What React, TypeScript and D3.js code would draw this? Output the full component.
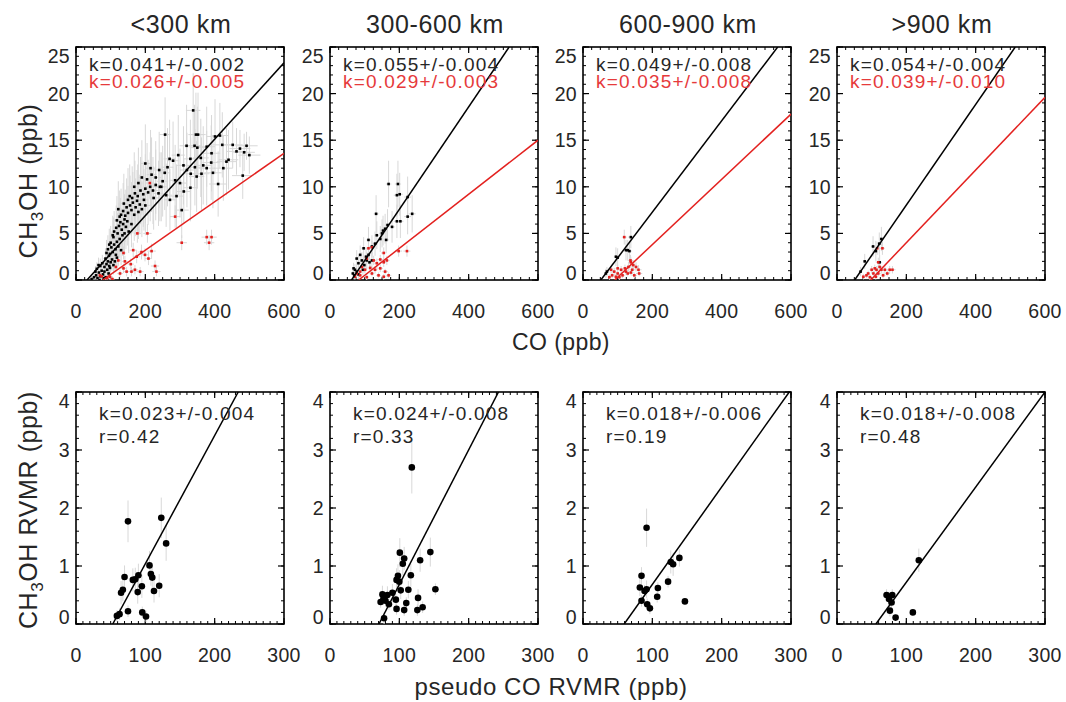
import React from "react";
import * as d3 from "d3";

type Pt = [number, number, number, number]; // x, y, yErr, xErr

const FONT = "'Liberation Sans', Arial, Helvetica, sans-serif";
const TXT = "#262626";
const RED = "#e3211f";
const RED_TXT = "#e63a3b";
const ERR = "#d8d8d8";

// ---------------- labels ----------------
const regionTitles = ["<300 km", "300-600 km", "600-900 km", ">900 km"];
const topXTicks = [0, 200, 400, 600];
const topYTicks = [0, 5, 10, 15, 20, 25];
const botXTicks = [0, 100, 200, 300];
const botYTicks = [0, 1, 2, 3, 4];

const topBlackK = ["k=0.041+/-0.002", "k=0.055+/-0.004", "k=0.049+/-0.008", "k=0.054+/-0.004"];
const topRedK = ["k=0.026+/-0.005", "k=0.029+/-0.003", "k=0.035+/-0.008", "k=0.039+/-0.010"];
const botK = ["k=0.023+/-0.004", "k=0.024+/-0.008", "k=0.018+/-0.006", "k=0.018+/-0.008"];
const botR = ["r=0.42", "r=0.33", "r=0.19", "r=0.48"];

// fit lines: [slope, intercept]
const topBlackLine = [[0.041, -1.3], [0.055, -3.42], [0.049, -2.52], [0.054, -2.76]];
const topRedLine = [[0.026, -2.0], [0.029, -2.4], [0.035, -3.2], [0.039, -3.8]];
const botLine = [[0.0221, -1.171], [0.0232, -1.638], [0.0168, -0.998], [0.0164, -0.92]];

// ---------------- data: top row (CO vs CH3OH) ----------------
const p1Black: Pt[] = [
  [45,0.1,0.4,4],[52,0.3,0.5,4],[58,0.5,0.5,4],[62,0.2,0.4,4],[66,0.8,0.6,5],[70,0.4,0.5,5],[74,1.0,0.7,5],[78,0.6,0.5,5],[82,0.9,0.7,5],[86,0.3,0.5,5],[90,1.1,0.8,6],[94,0.7,0.6,6],[98,1.3,0.9,6],[56,0.9,0.6,4],[68,0.0,0.4,5],[80,0.2,0.5,5],
  [70,1.5,0.8,5],[76,1.8,0.9,5],[82,1.4,0.8,6],[88,1.7,1.0,6],[92,2.0,1.1,6],[96,1.5,0.9,6],[100,1.9,1.1,7],[104,2.2,1.2,7],[108,1.6,1.0,7],[112,2.0,1.2,7],[85,2.3,1.1,6],[95,2.6,1.3,6],[118,2.4,1.3,8],[60,1.2,0.7,5],[65,1.6,0.8,5],
  [88,2.9,1.4,6],[92,3.3,1.5,6],[98,2.8,1.4,7],[102,3.5,1.6,7],[106,3.0,1.5,7],[110,3.8,1.8,7],[114,3.3,1.6,8],[118,4.1,1.9,8],[122,3.6,1.7,8],[126,4.4,2.0,8],[100,4.0,1.8,7],[108,4.6,2.1,7],[130,3.2,1.6,9],[134,4.8,2.2,9],[96,3.8,1.7,6],[115,2.7,1.4,8],[140,5.0,2.3,9],
  [110,5.2,2.2,7],[116,5.6,2.4,8],[120,5.0,2.2,8],[124,5.8,2.5,8],[128,6.2,2.6,8],[132,5.4,2.3,9],[136,6.0,2.5,9],[140,6.5,2.7,9],[144,5.7,2.4,10],[148,6.3,2.6,10],[118,6.4,2.6,8],[126,6.8,2.8,8],[152,5.2,2.3,10],[106,4.8,2.1,7],[160,6.0,2.5,10],
  [130,7.0,2.8,9],[136,7.4,3.0,9],[142,6.9,2.8,9],[146,7.8,3.1,10],[150,7.2,2.9,10],[156,8.0,3.2,10],[160,7.5,3.0,11],[164,8.3,3.3,11],[168,7.0,2.8,11],[172,7.8,3.1,11],[176,8.5,3.3,12],[180,7.3,2.9,12],[138,8.2,3.2,9],[150,8.6,3.4,10],[184,8.1,3.2,12],[190,7.6,3.0,12],[122,7.6,3.0,8],[200,8.0,3.2,13],
  [155,9.0,3.4,10],[162,8.8,3.4,11],[170,9.3,3.5,11],[178,9.0,3.4,12],[186,9.6,3.6,12],[194,9.2,3.5,13],[200,9.8,3.7,13],[208,9.4,3.5,13],[214,10.0,3.7,14],[222,9.6,3.6,14],[230,10.2,3.8,15],[168,10.0,3.7,11],[180,10.4,3.8,12],[238,9.3,3.5,15],[246,10.0,3.7,16],[260,9.1,3.4,17],[271,8.6,3.3,17],[196,8.6,3.3,13],[224,8.8,3.4,14],
  [190,11.0,4.0,12],[205,10.8,3.9,13],[218,11.3,4.0,14],[230,11.0,3.9,15],[242,10.0,3.7,16],[250,10.6,3.8,16],[256,11.5,4.0,16],[264,12.1,4.2,17],[286,10.7,3.8,18],[300,10.4,3.7,19],[311,9.5,3.5,20],[305,7.5,3.0,20],[331,11.4,3.9,21],[348,11.1,3.8,22],[362,11.4,3.9,23],[215,12.0,4.1,14],[200,12.5,4.2,13],[240,11.8,4.1,15],[290,9.0,3.4,19],
  [310,12.3,4.2,20],[343,12.1,4.1,22],[367,12.3,4.2,23],[377,12.0,4.0,24],[425,12.0,3.5,27],[434,12.7,3.6,28],[295,13.4,4.3,19],[319,14.4,4.4,20],[342,14.4,4.4,22],[350,14.2,4.4,22],[377,14.3,4.3,24],[391,13.6,4.1,25],[422,14.5,3.5,27],[452,14.5,2.5,29],[473,14.1,2.0,30],[492,14.4,1.5,32],[463,13.8,2.5,30],[485,13.7,2.0,31],[401,15.4,4.0,26],[415,15.5,3.5,26],[346,15.6,4.5,22],[352,15.6,4.5,22],[257,15.6,4.0,16],[338,18.2,4.0,21],[481,11.2,2.5,31],[270,13.0,4.2,17],[395,11.5,3.8,25],[410,10.3,3.5,26],[330,9.9,3.6,21],[280,12.8,4.2,18],[360,13.1,4.2,23],[330,13.0,4.2,21],[390,12.6,4.0,25],[440,12.9,3.2,28],[500,13.4,2.0,32],[320,11.8,4.0,20],
];
const p1Red: Pt[] = [
  [213,10.4,1.5,12],[286,6.8,1.2,15],[177,5.0,1.0,10],[206,5.0,1.0,12],[377,4.6,0.8,15],[391,4.6,0.8,15],[384,4.0,0.8,15],[305,4.0,0.8,15],[165,3.2,0.8,10],[189,3.0,0.8,10],[218,3.1,0.8,12],[199,2.7,0.7,10],[175,2.5,0.7,10],[209,2.3,0.7,10],[137,2.9,0.7,8],[122,2.1,0.6,8],[141,2.0,0.6,8],[158,1.7,0.6,9],[115,1.4,0.5,7],[137,1.25,0.5,8],[170,1.1,0.5,9],[228,1.5,0.6,12],[232,0.9,0.5,12],[146,0.9,0.5,8],[160,0.9,0.5,9],[185,0.9,0.5,10],[69,0.5,0.4,5],[74,0.4,0.4,5],[98,0.35,0.4,6],[127,0.7,0.4,8],[105,0.1,0.3,6],[90,0.2,0.3,6],
];
const p2Black: Pt[] = [
  [169,10.3,2.5,8],[196,10.3,2.5,9],[201,9.2,2.3,9],[193,9.1,2.3,9],[224,8.9,2.2,10],[133,7.1,2.0,7],[224,6.8,1.9,10],[237,7.1,2.0,10],[193,6.3,1.8,9],[203,6.3,1.8,9],[166,5.9,1.7,8],[159,5.5,1.6,8],[153,5.3,1.6,8],[179,5.7,1.7,8],[111,4.3,1.4,6],[145,4.4,1.4,7],[162,4.3,1.4,8],[130,3.9,1.3,7],[97,3.4,1.2,6],[121,3.6,1.2,7],[87,2.7,1.0,5],[104,2.5,1.0,6],[111,2.7,1.0,6],[77,2.3,0.9,5],[92,2.1,0.9,5],[106,2.1,0.9,6],[121,2.1,0.9,7],[82,1.8,0.8,5],[99,1.6,0.8,6],[114,1.9,0.8,6],[68,1.25,0.6,5],[72,1.1,0.6,5],[77,0.9,0.5,5],[66,0.7,0.5,5],[82,0.6,0.5,5],[70,0.5,0.4,5],[95,1.1,0.6,6],[135,4.8,1.5,7],[150,5.0,1.5,8],
];
const p2Red: Pt[] = [
  [111,3.4,0.7,7],[121,3.5,0.7,7],[198,3.1,0.6,10],[222,3.1,0.6,10],[155,2.9,0.6,8],[106,2.3,0.5,6],[126,2.1,0.5,7],[145,2.2,0.5,8],[164,2.1,0.5,8],[135,1.8,0.5,7],[155,1.9,0.5,8],[92,1.4,0.4,6],[116,1.3,0.4,7],[101,1.1,0.4,6],[130,1.1,0.4,7],[145,1.25,0.4,8],[77,0.7,0.3,5],[87,0.5,0.3,5],[121,0.7,0.3,7],[140,0.5,0.3,7],[155,0.35,0.3,8],[169,0.5,0.3,8],[72,0.35,0.3,5],[106,0.3,0.3,6],[87,0.9,0.3,5],[159,0.9,0.3,8],
];
const p3Black: Pt[] = [
  [138,4.6,1.2,8],[95,2.5,1.0,6],[100,2.4,1.0,6],[129,3.2,1.1,7],[134,3.1,1.1,7],[124,3.2,1.1,7],[69,0.9,0.5,5],[66,0.7,0.5,5],
];
const p3Red: Pt[] = [
  [119,4.6,0.8,7],[137,2.1,0.6,8],[138,1.9,0.6,8],[153,1.4,0.5,8],[160,1.1,0.5,9],[142,1.1,0.5,8],[131,1.4,0.5,7],[124,0.9,0.4,7],[110,1.1,0.4,6],[100,0.7,0.4,6],[90,0.9,0.4,6],[81,1.1,0.4,5],[84,0.5,0.3,5],[95,0.35,0.3,6],[105,0.3,0.3,6],[114,0.5,0.3,7],[129,0.7,0.3,7],[138,0.8,0.3,8],[148,0.5,0.3,8],[162,0.7,0.3,9],[76,0.3,0.3,5],[121,1.25,0.4,7],[145,1.6,0.5,8],[100,1.25,0.4,6],
];
const p4Black: Pt[] = [
  [128,4.4,1.3,7],[122,3.9,1.2,7],[104,3.6,1.1,6],[112,3.1,1.1,6],[80,2.0,0.8,5],[68,0.9,0.5,5],[123,1.9,0.8,7],
];
const p4Red: Pt[] = [
  [131,3.4,0.7,7],[116,3.4,0.7,7],[119,1.9,0.5,7],[114,1.1,0.4,6],[128,1.1,0.4,7],[100,1.1,0.4,6],[109,1.25,0.4,6],[138,1.1,0.4,8],[152,1.1,0.4,8],[160,1.1,0.4,9],[90,0.7,0.3,5],[105,0.7,0.3,6],[119,0.7,0.3,7],[133,0.5,0.3,7],[95,0.3,0.3,5],[76,0.35,0.3,5],[85,0.5,0.3,5],[123,1.4,0.4,7],[112,0.35,0.3,6],[145,0.7,0.3,8],
];

// ---------------- data: bottom row (pseudo CO RVMR vs CH3OH RVMR) ----------------
const b1: Pt[] = [
  [75,1.77,0.36,0],[123,1.83,0.35,0],[130,1.39,0.3,0],[106,1.01,0.25,0],[70,0.81,0.2,0],[85.5,0.77,0.2,0],[90,0.84,0.2,0],[82,0.76,0.2,0],[108,0.86,0.2,0],[110,0.8,0.2,0],[95,0.65,0.2,0],[89,0.55,0.2,0],[120,0.66,0.2,0],[112.5,0.57,0.2,0],[67.6,0.59,0.2,0],[65,0.54,0.2,0],[75,0.22,0.1,0],[95.6,0.2,0.1,0],[101,0.13,0.1,0],[59,0.14,0.1,0],[62.8,0.17,0.1,0],
];
const b2: Pt[] = [
  [118,2.7,0.45,0],[100.7,1.23,0.25,0],[144.7,1.24,0.25,0],[107,1.13,0.2,0],[105,1.04,0.2,0],[130,1.1,0.2,0],[98,0.83,0.2,0],[116.6,0.84,0.2,0],[96,0.76,0.2,0],[100,0.73,0.2,0],[102,0.58,0.15,0],[113,0.59,0.15,0],[152,0.6,0.1,5],[75.6,0.51,0.15,0],[82.8,0.5,0.15,0],[90,0.54,0.15,0],[73,0.38,0.1,0],[80,0.4,0.1,0],[85,0.34,0.1,0],[95,0.42,0.1,0],[127,0.45,0.15,0],[110,0.36,0.1,0],[96,0.26,0.1,0],[107,0.24,0.1,0],[126,0.24,0.1,0],[133.6,0.29,0.1,0],[78,0.1,0.1,0],[77,0.43,0.1,0],
];
const b3: Pt[] = [
  [91.7,1.66,0.33,0],[139,1.14,0.15,4],[126.6,1.07,0.2,0],[130,1.03,0.2,0],[122.7,0.73,0.1,0],[84.4,0.83,0.15,0],[82,0.63,0.15,0],[91.7,0.6,0.15,0],[88.8,0.57,0.1,0],[108,0.62,0.1,0],[107,0.47,0.1,0],[84.4,0.4,0.1,0],[92.6,0.34,0.1,0],[96.5,0.27,0.1,0],[147,0.39,0.05,5],
];
const b4: Pt[] = [
  [118,1.1,0.2,0],[71.5,0.5,0.1,0],[79.7,0.5,0.1,0],[75,0.43,0.1,0],[78.7,0.37,0.1,0],[76.3,0.23,0.1,0],[84.5,0.11,0.05,0],[109.4,0.2,0.05,4],
];

const topBlack = [p1Black, p2Black, p3Black, p4Black];
const topRed = [p1Red, p2Red, p3Red, p4Red];
const bottomPts = [b1, b2, b3, b4];

// ---------------- layout ----------------
const panelLeft = [76, 330, 583, 837];
const panelW = 208;
const TOP = { y0: 47, y1: 280 };
const BOT = { y0: 392, y1: 624 };

type AxisSpec = {
  xDomain: [number, number];
  yDomain: [number, number];
  xTicks: number[];
  yTicks: number[];
  xMinor: number;
  yMinor: number;
};

const topSpec: AxisSpec = { xDomain: [0, 600], yDomain: [0, 25], xTicks: topXTicks, yTicks: topYTicks, xMinor: 25, yMinor: 1 };
const botSpec: AxisSpec = { xDomain: [0, 300], yDomain: [0, 4], xTicks: botXTicks, yTicks: botYTicks, xMinor: 10, yMinor: 0.2 };

function Frame({ x0, y0, y1, spec, id }: { x0: number; y0: number; y1: number; spec: AxisSpec; id: string }) {
  const x = d3.scaleLinear().domain(spec.xDomain).range([x0, x0 + panelW]);
  const y = d3.scaleLinear().domain(spec.yDomain).range([y1, y0]);
  const xm = d3.range(spec.xDomain[0], spec.xDomain[1] + 1e-9, spec.xMinor);
  const ym = d3.range(spec.yDomain[0], spec.yDomain[1] + 1e-9, spec.yMinor);
  const maj = 6, min = 3;
  return (
    <g>
      {xm.map((v, i) => (
        <g key={"xm" + i}>
          <line x1={x(v)} x2={x(v)} y1={y1} y2={y1 - min} stroke="#000" strokeWidth={1} />
          <line x1={x(v)} x2={x(v)} y1={y0} y2={y0 + min} stroke="#000" strokeWidth={1} />
        </g>
      ))}
      {ym.map((v, i) => (
        <g key={"ym" + i}>
          <line x1={x0} x2={x0 + min} y1={y(v)} y2={y(v)} stroke="#000" strokeWidth={1} />
          <line x1={x0 + panelW} x2={x0 + panelW - min} y1={y(v)} y2={y(v)} stroke="#000" strokeWidth={1} />
        </g>
      ))}
      {spec.xTicks.map((v, i) => (
        <g key={"xt" + i}>
          <line x1={x(v)} x2={x(v)} y1={y1} y2={y1 - maj} stroke="#000" strokeWidth={1.2} />
          <line x1={x(v)} x2={x(v)} y1={y0} y2={y0 + maj} stroke="#000" strokeWidth={1.2} />
          <text x={x(v)} y={y1 + 38} textAnchor="middle" fontSize={19.5} letterSpacing={0.3} fill={TXT} fontFamily={FONT}>{v}</text>
        </g>
      ))}
      {spec.yTicks.map((v, i) => {
        const yy = y(v);
        const ly = Math.min(Math.max(yy, y0 + 9), y1 - 7);
        return (
          <g key={"yt" + i}>
            <line x1={x0} x2={x0 + maj} y1={yy} y2={yy} stroke="#000" strokeWidth={1.2} />
            <line x1={x0 + panelW} x2={x0 + panelW - maj} y1={yy} y2={yy} stroke="#000" strokeWidth={1.2} />
            <text x={x0 - 6} y={ly} dy="0.36em" textAnchor="end" fontSize={19.5} letterSpacing={0.3} fill={TXT} fontFamily={FONT}>{v}</text>
          </g>
        );
      })}
      <rect x={x0} y={y0} width={panelW} height={y1 - y0} fill="none" stroke="#000" strokeWidth={1.6} />
      <clipPath id={id}>
        <rect x={x0} y={y0} width={panelW} height={y1 - y0} />
      </clipPath>
    </g>
  );
}

function fitPath(k: number, b: number, spec: AxisSpec, x: d3.ScaleLinear<number, number>, y: d3.ScaleLinear<number, number>) {
  const [xa, xb] = spec.xDomain;
  const [ya, yb] = spec.yDomain;
  const xs = Math.max(xa, (ya - b) / k);
  const xe = Math.min(xb, (yb - b) / k);
  const line = d3.line<number>().x((d) => x(d)).y((d) => y(k * d + b));
  return line([xs, xe]) || "";
}

function ErrBars({ pts, x, y }: { pts: Pt[]; x: any; y: any }) {
  return (
    <g stroke={ERR} strokeWidth={1}>
      {pts.map((p, i) => (
        <g key={i}>
          <line x1={x(p[0])} x2={x(p[0])} y1={y(p[1] - p[2])} y2={y(p[1] + p[2])} />
          {p[3] > 0 && <line x1={x(p[0] - p[3])} x2={x(p[0] + p[3])} y1={y(p[1])} y2={y(p[1])} />}
        </g>
      ))}
    </g>
  );
}

function TopPanel({ i }: { i: number }) {
  const x0 = panelLeft[i];
  const x = d3.scaleLinear().domain(topSpec.xDomain).range([x0, x0 + panelW]);
  const y = d3.scaleLinear().domain(topSpec.yDomain).range([TOP.y1, TOP.y0]);
  const id = "clipT" + i;
  const s = 2.6;
  return (
    <g>
      <Frame x0={x0} y0={TOP.y0} y1={TOP.y1} spec={topSpec} id={id} />
      <g clipPath={`url(#${id})`}>
        <ErrBars pts={topBlack[i]} x={x} y={y} />
        <ErrBars pts={topRed[i]} x={x} y={y} />
        {topBlack[i].map((p, j) => (
          <rect key={"b" + j} x={x(p[0]) - s / 2} y={y(p[1]) - s / 2} width={s} height={s} fill="#000" />
        ))}
        {topRed[i].map((p, j) => (
          <rect key={"r" + j} x={x(p[0]) - s / 2} y={y(p[1]) - s / 2} width={s} height={s} fill={RED} />
        ))}
        <path d={fitPath(topBlackLine[i][0], topBlackLine[i][1], topSpec, x, y)} stroke="#000" strokeWidth={1.5} fill="none" />
        <path d={fitPath(topRedLine[i][0], topRedLine[i][1], topSpec, x, y)} stroke={RED} strokeWidth={1.5} fill="none" />
      </g>
      <text x={x0 + 13} y={71} fontSize={19} letterSpacing={1.2} fill={TXT} fontFamily={FONT}>{topBlackK[i]}</text>
      <text x={x0 + 13} y={88} fontSize={19} letterSpacing={1.2} fill={RED_TXT} fontFamily={FONT}>{topRedK[i]}</text>
      <text x={x0 + panelW / 2 + 1} y={33} textAnchor="middle" fontSize={25} letterSpacing={0.6} fill={TXT} fontFamily={FONT}>{regionTitles[i]}</text>
    </g>
  );
}

function BottomPanel({ i }: { i: number }) {
  const x0 = panelLeft[i];
  const x = d3.scaleLinear().domain(botSpec.xDomain).range([x0, x0 + panelW]);
  const y = d3.scaleLinear().domain(botSpec.yDomain).range([BOT.y1, BOT.y0]);
  const id = "clipB" + i;
  return (
    <g>
      <Frame x0={x0} y0={BOT.y0} y1={BOT.y1} spec={botSpec} id={id} />
      <g clipPath={`url(#${id})`}>
        <ErrBars pts={bottomPts[i]} x={x} y={y} />
        {bottomPts[i].map((p, j) => (
          <circle key={j} cx={x(p[0])} cy={y(p[1])} r={3.3} fill="#000" />
        ))}
        <path d={fitPath(botLine[i][0], botLine[i][1], botSpec, x, y)} stroke="#000" strokeWidth={1.5} fill="none" />
      </g>
      <text x={x0 + 23} y={420} fontSize={19} letterSpacing={1.2} fill={TXT} fontFamily={FONT}>{botK[i]}</text>
      <text x={x0 + 23} y={443} fontSize={19} letterSpacing={1.2} fill={TXT} fontFamily={FONT}>{botR[i]}</text>
    </g>
  );
}

function YTitle({ cx, cy, rest }: { cx: number; cy: number; rest: string }) {
  return (
    <text transform={`translate(${cx},${cy}) rotate(-90)`} textAnchor="middle" fontSize={25} letterSpacing={0.6} fill={TXT} fontFamily={FONT}>
      CH<tspan fontSize={17} dy={6}>3</tspan><tspan dy={-6}>{rest}</tspan>
    </text>
  );
}

export default function App() {
  return (
    <svg width={1066} height={702} viewBox="0 0 1066 702" style={{ position: "absolute", left: 0, top: 0, background: "#fff" }}>
      <rect width={1066} height={702} fill="#fff" />
      {[0, 1, 2, 3].map((i) => (
        <TopPanel key={"t" + i} i={i} />
      ))}
      {[0, 1, 2, 3].map((i) => (
        <BottomPanel key={"b" + i} i={i} />
      ))}
      <text x={561} y={350} textAnchor="middle" fontSize={23} letterSpacing={0.4} fill={TXT} fontFamily={FONT}>CO (ppb)</text>
      <text x={551} y={695} textAnchor="middle" fontSize={24} letterSpacing={0.6} fill={TXT} fontFamily={FONT}>pseudo CO RVMR (ppb)</text>
      <YTitle cx={37} cy={181} rest="OH (ppb)" />
      <YTitle cx={37} cy={510} rest="OH RVMR (ppb)" />
    </svg>
  );
}
